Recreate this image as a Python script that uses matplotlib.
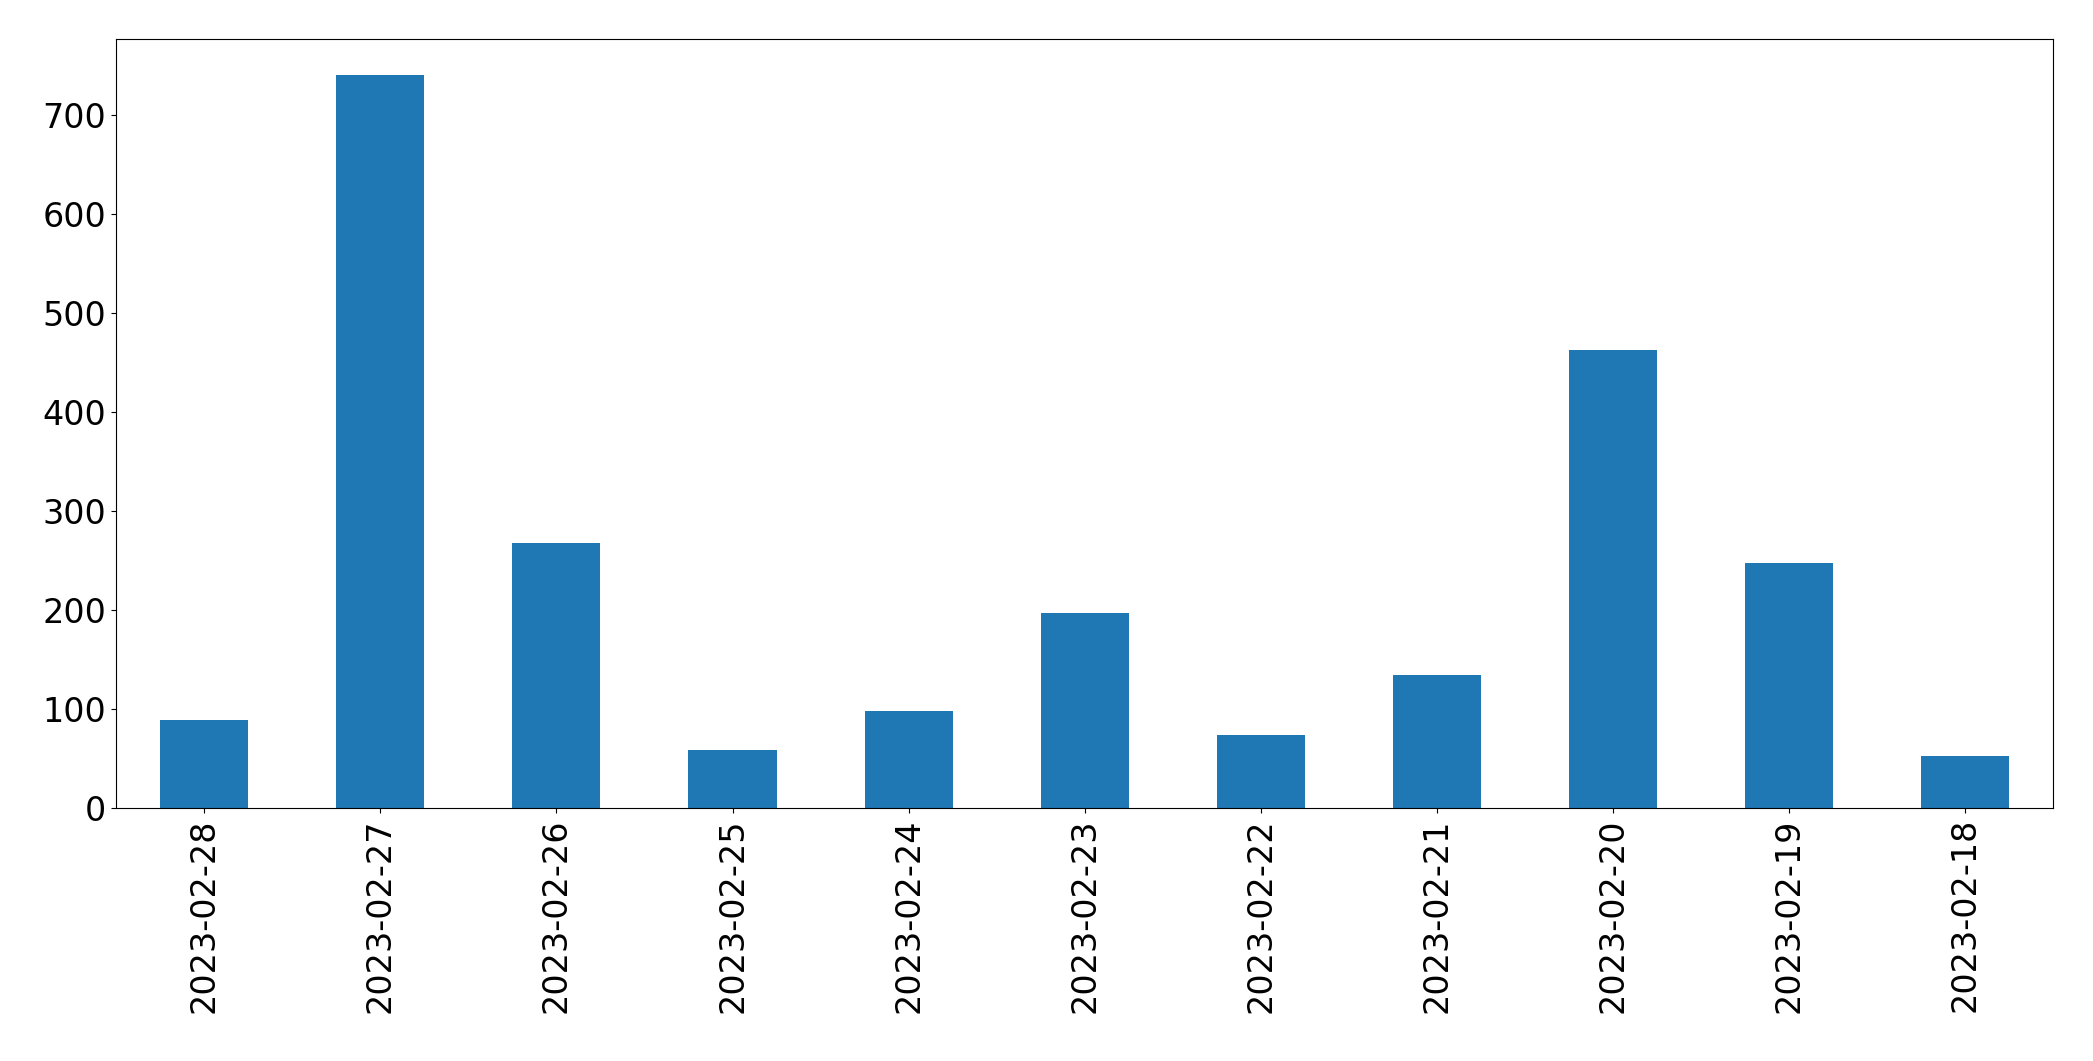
import matplotlib
matplotlib.use("Agg")
import matplotlib.pyplot as plt
import numpy as np

dates = ['2023-02-28', '2023-02-27', '2023-02-26', '2023-02-25', '2023-02-24',
         '2023-02-23', '2023-02-22', '2023-02-21', '2023-02-20', '2023-02-19',
         '2023-02-18']
counts = [89, 740, 268, 59, 98, 197, 74, 135, 463, 248, 53]

fig = plt.figure(figsize=(20.93, 10.61), dpi=100)
ax = fig.add_axes([0.0555, 0.238, 0.9255, 0.7255])
x = np.arange(len(dates))
ax.bar(x, counts, width=0.5, color='#1f77b4')
ax.set_xlim(-0.5, len(dates) - 0.5)
ax.set_ylim(0, 777)
ax.set_xticks(x)
ax.set_xticklabels(dates, rotation=90)
ax.tick_params(labelsize=24)

fig.savefig('out.png', dpi=100)
